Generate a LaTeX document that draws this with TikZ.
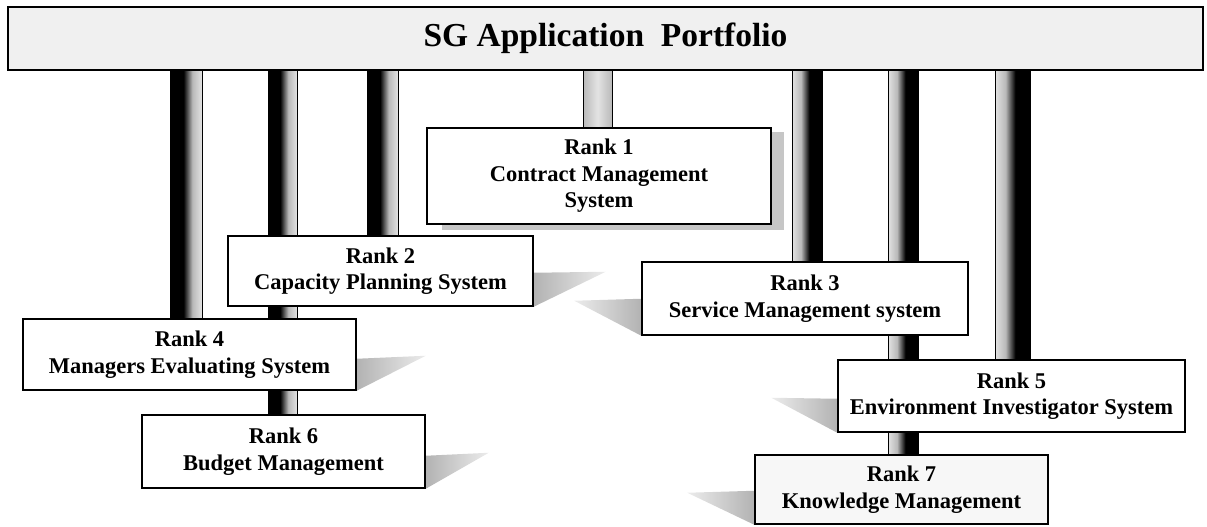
\documentclass[tikz,border=0pt]{standalone}
\usepackage{fontspec}
\setmainfont{Liberation Serif}
\usetikzlibrary{backgrounds}
\colorlet{PillarDark}{black}
\colorlet{PillarMid}{gray!55}
\colorlet{PillarLight}{gray!22}
\pgfdeclarehorizontalshading{pillarL}{100bp}{color(0bp)=(PillarDark); color(25bp)=(PillarDark); color(46bp)=(PillarDark); color(60bp)=(PillarMid); color(75bp)=(PillarLight); color(100bp)=(PillarLight)}
\pgfdeclarehorizontalshading{pillarR}{100bp}{color(0bp)=(PillarLight); color(25bp)=(PillarLight); color(40bp)=(PillarMid); color(54bp)=(PillarDark); color(75bp)=(PillarDark); color(100bp)=(PillarDark)}
\pgfdeclarehorizontalshading{pillarM}{100bp}{color(0bp)=(PillarMid); color(25bp)=(PillarMid); color(50bp)=(PillarLight); color(75bp)=(PillarMid); color(100bp)=(PillarMid)}

\begin{document}
\begin{tikzpicture}[x=1pt, y=-1pt,
    rankbox/.style={draw, line width=1.5pt, fill=white, align=center, inner sep=0pt,
        font=\fontsize{22.5}{26.5}\selectfont\bfseries},
    pillarl/.style={shading=pillarL, draw=black, line width=0.8pt},
    pillarr/.style={shading=pillarR, draw=black, line width=0.8pt},
    pillarm/.style={shading=pillarM, draw=black, line width=0.8pt},
    wedger/.style={left color=gray!60, right color=gray!15},
    wedgel/.style={left color=gray!15, right color=gray!60}]
        \useasboundingbox (0,0) rectangle (1207,527);

        % 1. The portfolio banner
        \node[draw, line width=1.6pt, fill=gray!12, minimum width=1195pt, minimum height=63pt,
            font=\fontsize{33.5}{38}\selectfont\bfseries] (portfolio) at (605.5,38.5) {SG Application\ \ Portfolio};

        % 2. The ranked applications
        \node[rankbox, minimum width=344pt, minimum height=96pt] (rank1) at (599,176) {Rank 1\\Contract Management\\System};
        \node[rankbox, minimum width=305pt, minimum height=70pt] (rank2) at (380.5,271) {Rank 2\\Capacity Planning System};
        \node[rankbox, minimum width=326pt, minimum height=73pt] (rank3) at (805,298.5) {Rank 3\\Service Management system};
        \node[rankbox, minimum width=333pt, minimum height=71pt] (rank4) at (189.5,354.5) {Rank 4\\Managers Evaluating System};
        \node[rankbox, minimum width=347pt, minimum height=72pt] (rank5) at (1011.5,396) {Rank 5\\Environment Investigator System};
        \node[rankbox, minimum width=283pt, minimum height=73pt] (rank6) at (283.5,451.5) {Rank 6\\Budget Management};
        \node[rankbox, minimum width=293pt, minimum height=69pt, fill=gray!6] (rank7) at (901.5,489.5) {Rank 7\\Knowledge Management};

        \begin{scope}[on background layer]
            % 3. Pillars hanging from the banner
            \foreach \xa/\xb/\target in {170/202/rank4, 268/297/rank6, 367/398/rank2} {
                \draw[pillarl] (\xa,0 |- portfolio.south) rectangle (\xb,0 |- \target.north);
            }
            \draw[pillarm] (583,0 |- portfolio.south) rectangle (612,0 |- rank1.north);
            \foreach \xa/\xb/\target in {792/822/rank3, 888/918/rank7, 995/1030/rank5} {
                \draw[pillarr] (\xa,0 |- portfolio.south) rectangle (\xb,0 |- \target.north);
            }

            % 4. Shadows
            \fill[gray!45] ([xshift=16pt,yshift=-5pt]rank1.south west) rectangle ([xshift=12pt,yshift=-5pt]rank1.north east);
            \path[wedger] (rank2.south east) -- ++(0,-34) -- ++(72,-1) -- cycle;
            \path[wedger] (rank4.south east) -- ++(0,-32) -- ++(69,-3) -- cycle;
            \path[wedger] (rank6.south east) -- ++(0,-33) -- ++(63,-3) -- cycle;
            \path[wedgel] (rank3.south west) -- ++(0,-37) -- ++(-67,2) -- cycle;
            \path[wedgel] (rank5.south west) -- ++(0,-34) -- ++(-66,-1) -- cycle;
            \path[wedgel] (rank7.south west) -- ++(0,-34) -- ++(-67,2) -- cycle;
        \end{scope}

    \end{tikzpicture}
\end{document}
